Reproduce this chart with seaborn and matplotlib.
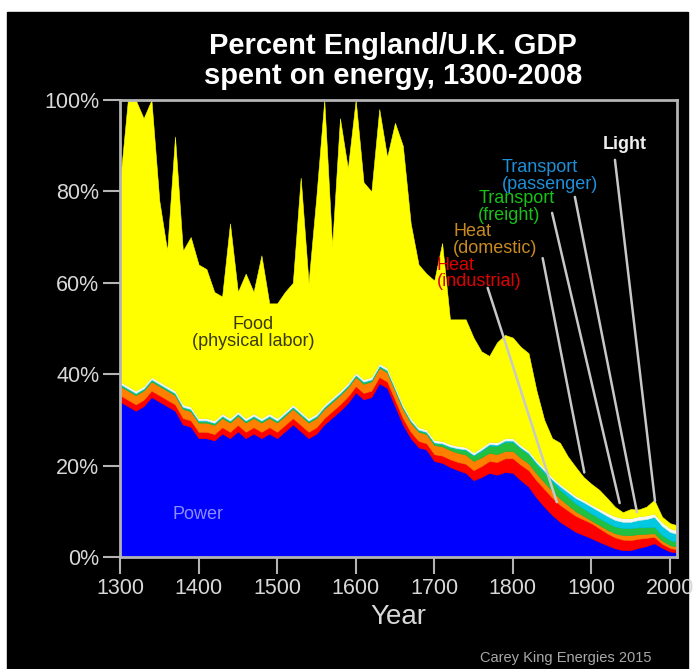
import numpy as np
import matplotlib
matplotlib.use("Agg")
import matplotlib.pyplot as plt
import seaborn as sns

# Decade samples (percent of GDP)
years = list(range(1300, 2001, 10)) + [2008]

power = [
    34, 33, 32, 33, 35, 34, 33, 32, 29, 28.5,
    26, 26, 25.5, 27, 26, 27.5, 26, 27, 26, 27,
    26, 27.5, 29, 27.5, 26, 27, 29, 30.5, 32, 33.7,
    36, 34.5, 35, 38, 37, 33, 29, 26, 24, 23.5,
    21, 20.6, 19.7, 19, 18.4, 16.8, 17.5, 18.4, 18, 18.6,
    18.4, 16.8, 15.4, 13, 11, 9.2, 7.7, 6.6, 5.5, 4.8,
    4.1, 3.3, 2.6, 1.9, 1.5, 1.5, 2.0, 2.4, 3.0, 2.0,
    1.2, 1.0,
]
heat_industrial = [
    1.4, 1.4, 1.4, 1.4, 1.4, 1.4, 1.4, 1.4, 1.4, 1.4,
    1.4, 1.4, 1.4, 1.4, 1.4, 1.4, 1.4, 1.4, 1.4, 1.4,
    1.4, 1.4, 1.4, 1.4, 1.4, 1.4, 1.4, 1.4, 1.4, 1.4,
    1.4, 1.4, 1.4, 1.4, 1.4, 1.4, 1.4, 1.4, 1.4, 1.4,
    1.5, 1.6, 1.7, 1.8, 2.0, 2.2, 2.4, 2.6, 2.8, 3.0,
    3.2, 3.4, 3.6, 3.8, 3.9, 3.8, 3.7, 3.6, 3.5, 3.4,
    3.3, 3.0, 2.6, 2.4, 2.3, 2.2, 2.0, 1.8, 1.4, 0.9,
    0.8, 0.7,
]
heat_domestic = [
    2.0, 2.0, 2.0, 2.0, 2.0, 2.0, 2.0, 2.0, 2.0, 2.0,
    2.0, 2.0, 2.0, 2.0, 2.0, 2.0, 2.0, 2.0, 2.0, 2.0,
    2.0, 2.0, 2.0, 2.0, 2.0, 2.0, 2.0, 2.0, 2.0, 2.0,
    2.0, 2.0, 2.0, 2.0, 2.0, 2.0, 2.0, 2.0, 2.0, 2.0,
    2.0, 2.0, 2.0, 2.0, 2.0, 2.0, 1.9, 1.8, 1.7, 1.6,
    1.6, 1.5, 1.5, 1.5, 1.5, 1.5, 1.4, 1.2, 1.0, 0.8,
    0.6, 0.7, 0.8, 0.9, 1.0, 1.1, 1.0, 0.9, 0.8, 0.7,
    0.6, 0.6,
]
transport_freight = [
    0.3, 0.3, 0.3, 0.3, 0.3, 0.3, 0.3, 0.3, 0.3, 0.3,
    0.3, 0.3, 0.3, 0.3, 0.3, 0.3, 0.3, 0.3, 0.3, 0.3,
    0.3, 0.3, 0.3, 0.3, 0.3, 0.3, 0.3, 0.3, 0.3, 0.3,
    0.3, 0.3, 0.3, 0.3, 0.3, 0.3, 0.3, 0.3, 0.3, 0.3,
    0.4, 0.5, 0.6, 0.8, 1.0, 1.2, 1.4, 1.6, 1.8, 2.0,
    2.0, 2.0, 2.0, 2.0, 2.0, 2.0, 1.9, 1.8, 1.7, 1.6,
    1.5, 1.5, 1.5, 1.5, 1.5, 1.5, 1.5, 1.4, 1.4, 1.2,
    1.1, 1.1,
]
transport_passenger = [
    0.2, 0.2, 0.2, 0.2, 0.2, 0.2, 0.2, 0.2, 0.2, 0.2,
    0.2, 0.2, 0.2, 0.2, 0.2, 0.2, 0.2, 0.2, 0.2, 0.2,
    0.2, 0.2, 0.2, 0.2, 0.2, 0.2, 0.2, 0.2, 0.2, 0.2,
    0.2, 0.2, 0.2, 0.2, 0.2, 0.2, 0.2, 0.2, 0.2, 0.2,
    0.2, 0.2, 0.2, 0.2, 0.2, 0.2, 0.3, 0.3, 0.3, 0.3,
    0.3, 0.3, 0.3, 0.4, 0.5, 0.5, 0.8, 1.0, 1.2, 1.4,
    1.5, 1.5, 1.5, 1.4, 1.4, 1.4, 1.6, 1.8, 2.2, 2.0,
    1.8, 1.7,
]
light = [
    0.5, 0.5, 0.5, 0.5, 0.5, 0.5, 0.5, 0.5, 0.5, 0.5,
    0.5, 0.5, 0.5, 0.5, 0.5, 0.5, 0.5, 0.5, 0.5, 0.5,
    0.5, 0.5, 0.5, 0.5, 0.5, 0.5, 0.5, 0.5, 0.5, 0.5,
    0.5, 0.5, 0.5, 0.5, 0.5, 0.5, 0.5, 0.5, 0.5, 0.5,
    0.5, 0.5, 0.5, 0.5, 0.5, 0.5, 0.5, 0.5, 0.5, 0.5,
    0.5, 0.5, 0.5, 0.5, 0.5, 0.5, 0.5, 0.5, 0.5, 0.5,
    0.5, 0.6, 0.7, 0.8, 0.8, 0.8, 0.8, 0.8, 0.7, 0.8,
    0.8, 0.8,
]
food = [
    43.6, 62.6, 63.6, 58.6, 60.6, 39.6, 29.6, 55.6, 33.6, 37.1,
    33.6, 32.6, 28.1, 25.6, 42.6, 26.1, 31.6, 26.6, 35.6, 24.1,
    25.1, 26.1, 26.6, 51.1, 29.6, 47.6, 66.6, 33.1, 59.6, 46.9,
    59.6, 43.1, 40.6, 55.6, 46.1, 57.6, 56.6, 42.6, 35.6, 34.1,
    34.9, 43.3, 27.3, 27.7, 27.9, 25.1, 21.0, 18.8, 21.9, 22.6,
    22.0, 21.5, 21.3, 15.3, 10.6, 8.5, 9.0, 7.3, 6.3, 5.0,
    4.5, 4.1, 3.2, 2.1, 1.3, 2.0, 1.5, 1.9, 3.0, 1.2,
    1.1, 1.1,
]

x_ticks = list(range(1300, 2001, 100))
y_ticks = [0, 20, 40, 60, 80, 100]

layer_colors = ["#0000ff", "#ff0000", "#ff8000", "#22c040",
                "#00c8e0", "#f4f8f0", "#ffff00"]

sns.set_theme(style="ticks", rc={"axes.facecolor": "black"})
plt.rcParams["font.family"] = ["Liberation Sans", "DejaVu Sans"]

GRAY = "#b4b4b4"

fig = plt.figure(figsize=(6.97, 6.69), dpi=100)
fig.patch.set_facecolor("white")
fig.add_artist(plt.Rectangle((7 / 697, 0), 681 / 697, 657 / 669,
                             transform=fig.transFigure, color="black",
                             zorder=-10))
ax = fig.add_axes([120 / 697, 1 - 557 / 669, 557 / 697, 457 / 669])

ax.stackplot(years, power, heat_industrial, heat_domestic, transport_freight,
             transport_passenger, light, food, colors=layer_colors,
             edgecolor="face", linewidth=0.4)

ax.set_xlim(1300, 2009)
ax.set_ylim(0, 100)
ax.set_xticks(x_ticks)
ax.set_yticks(y_ticks)
ax.set_yticklabels([f"{v}%" for v in y_ticks])
ax.tick_params(direction="out", length=12, width=1.5, color=GRAY,
               labelcolor="#d8d8d8", labelsize=15.5, pad=3)
for s in ax.spines.values():
    s.set_color(GRAY)
    s.set_linewidth(2)
ax.set_xlabel("Year", color="#d8d8d8", fontsize=20, labelpad=4)

fig.text(393 / 697, 1 - 61 / 669, "Percent England/U.K. GDP\nspent on energy, 1300-2008",
         ha="center", va="center", color="white", fontsize=21,
         fontweight="bold", linespacing=1.08)
fig.text(652 / 697, 1 - 658 / 669, "Carey King Energies 2015", ha="right",
         va="center", color="#a8a8a8", fontsize=10.5)

# category labels
lab = dict(fontsize=13, linespacing=0.95, va="center")
ax.text(1469, 49, "Food\n(physical labor)", ha="center", color="#3a3a10", **lab)
ax.text(1399, 9.2, "Power", ha="center", color="#8c8cff", **lab)
ax.text(1703, 62.1, "Heat\n(industrial)", ha="left", color="#e00000", **lab)
ax.text(1724, 69.4, "Heat\n(domestic)", ha="left", color="#c88a20", **lab)
ax.text(1756, 76.6, "Transport\n(freight)", ha="left", color="#18c018", **lab)
ax.text(1786, 83.4, "Transport\n(passenger)", ha="left", color="#1e90d8", **lab)
ax.text(1915, 90.2, "Light", ha="left", color="#eeeeee", fontweight="bold", **lab)

# leader lines
leaders = [((1768, 58.9), (1856, 12)), ((1838, 65.4), (1891, 18.5)),
           ((1850, 75.3), (1936, 11.8)), ((1879, 78.8), (1958, 9.8)),
           ((1930, 86.9), (1981, 12.2))]
for (x0, y0), (x1, y1) in leaders:
    ax.plot([x0, x1], [y0, y1], color="#c8c8c8", lw=1.8, solid_capstyle="round")

fig.savefig("out.png", dpi=100, facecolor=fig.get_facecolor())
